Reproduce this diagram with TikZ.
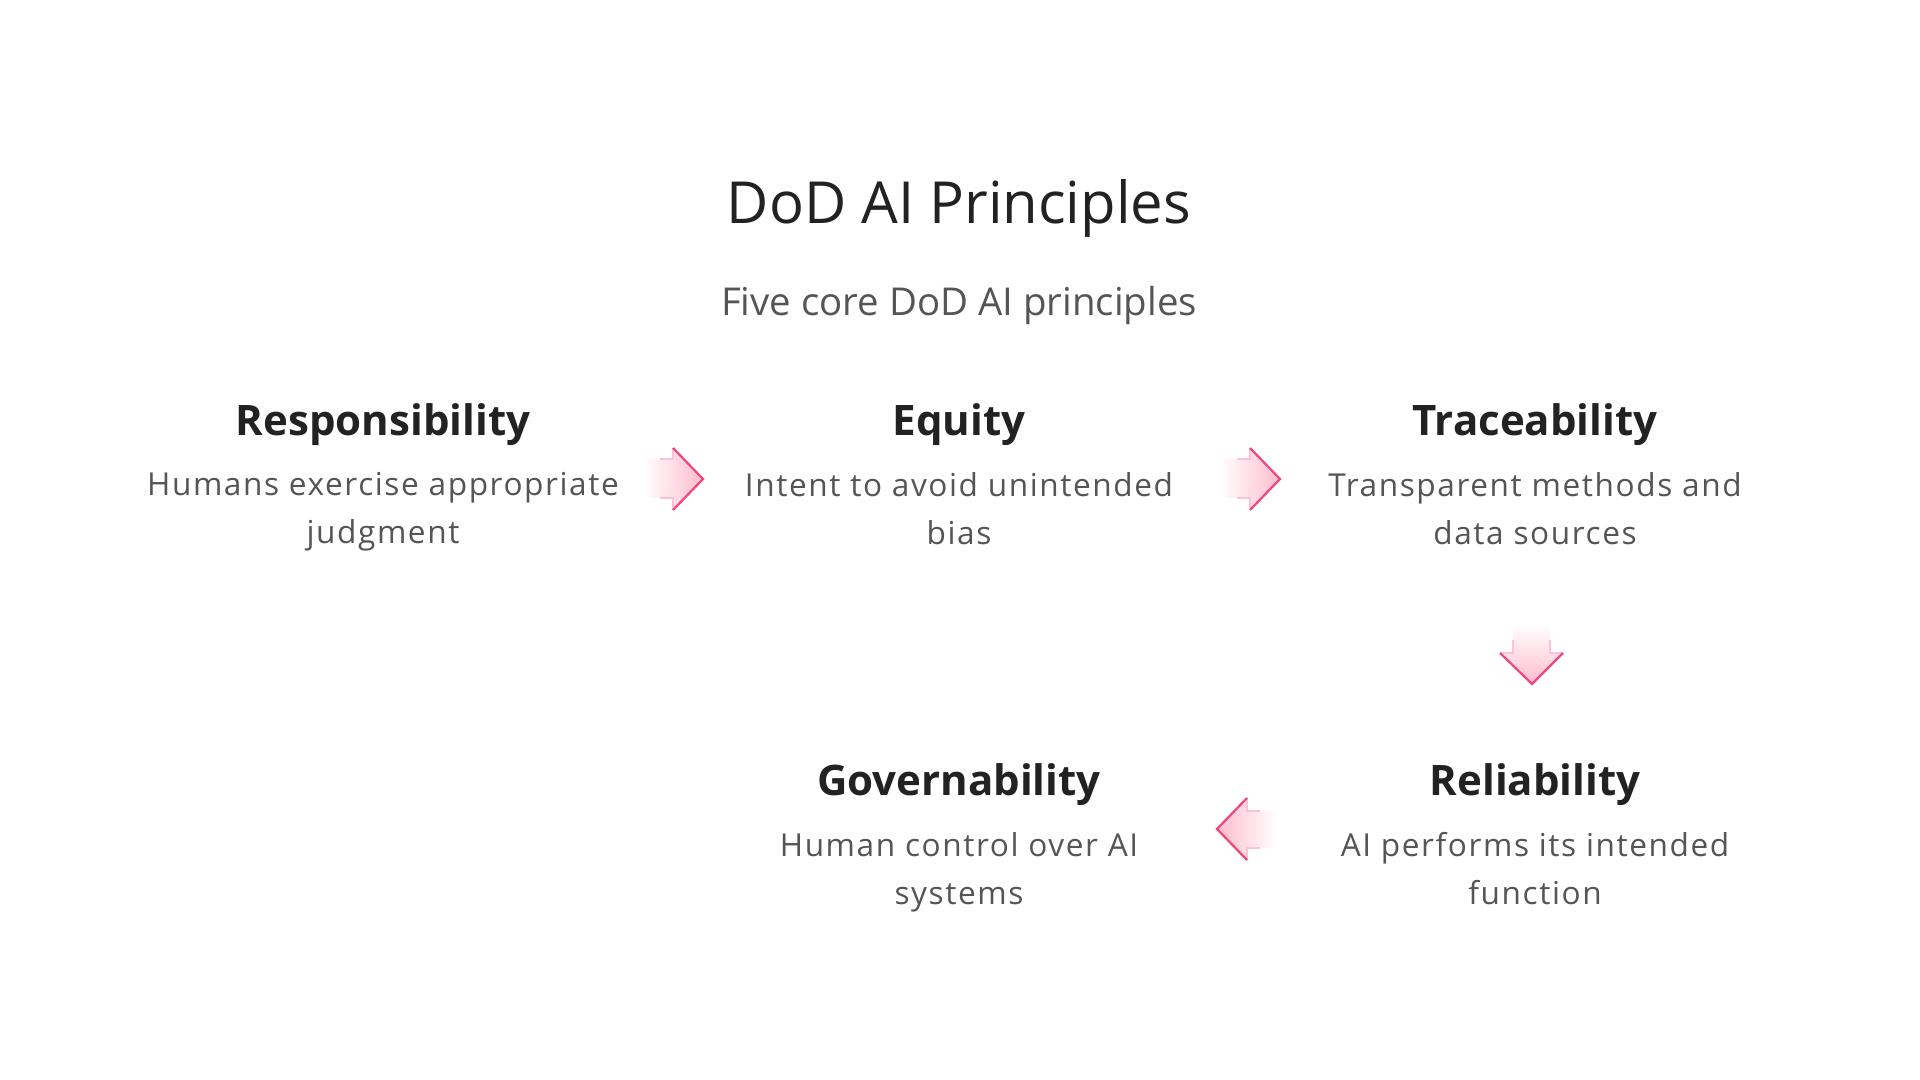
\documentclass[tikz,border=0pt]{standalone}
\usepackage{fontspec}
\setmainfont{Open Sans}
\newfontfamily\descfont[LetterSpace=5]{Open Sans}
\definecolor{titlec}{HTML}{222222}
\definecolor{descc}{HTML}{555555}
\definecolor{pinkfill}{HTML}{FFBCCD}
\definecolor{pinklight}{HTML}{FFC2D1}
\definecolor{pinkedge}{HTML}{F2457A}
\tikzset{
  titlestyle/.style={font=\fontsize{29}{35}\selectfont, text=titlec, inner sep=0, anchor=base},
  substyle/.style={font=\fontsize{19.2}{23}\selectfont, text=descc, inner sep=0, anchor=base},
  heading/.style={font=\fontsize{21}{25}\selectfont\bfseries, text=titlec, inner sep=0, anchor=base},
  desc/.style={font=\descfont\fontsize{15.8}{24}\selectfont, text=descc, align=center, inner sep=0, anchor=north},
  arrowfill/.style={draw=none},
  arrowrim/.style={draw=pinklight, line width=0.8pt, line join=miter},
  arrowtip/.style={draw=pinkedge, line width=1.1pt, line join=miter},
}
\begin{document}
\begin{tikzpicture}[x=0.5pt,y=-0.5pt]
\useasboundingbox[fill=white] (0,0) rectangle (1920,1080);

\node[titlestyle] (title) at (959,224) {DoD AI Principles};
\node[substyle] (sub) at (959,316) {Five core DoD AI principles};

% row 1
\node[heading] (h1) at (383,435) {Responsibility};
\node[desc] (d1) at (383,472) {Humans exercise appropriate\\judgment};
\node[heading] (h2) at (959,435) {Equity};
\node[desc] (d2) at (959,472) {Intent to avoid unintended\\bias};
\node[heading] (h3) at (1535,435) {Traceability};
\node[desc] (d3) at (1535,472) {Transparent methods and\\data sources};
% row 2
\node[heading] (h4) at (1535,795) {Reliability};
\node[desc] (d4) at (1535,832) {AI performs its intended\\function};
\node[heading] (h5) at (959,795) {Governability};
\node[desc] (d5) at (959,832) {Human control over AI\\systems};

% arrow 1 (right)
\coordinate (a1) at (703,479);
\shade[left color=white, right color=pinkfill, arrowfill]
  (643,459) -- (673,459) -- (673,448) -- (703,479) -- (673,510) -- (673,498) -- (643,498) -- cycle;
\draw[arrowrim] (660,459) -- (673,459) -- (673,448);
\draw[arrowrim] (660,498) -- (673,498) -- (673,510);
\draw[arrowtip] (673,448) -- (a1) -- (673,510);

% arrow 2 (right)
\coordinate (a2) at (1280,479);
\shade[left color=white, right color=pinkfill, arrowfill]
  (1220,459) -- (1250,459) -- (1250,448) -- (1280,479) -- (1250,510) -- (1250,498) -- (1220,498) -- cycle;
\draw[arrowrim] (1237,459) -- (1250,459) -- (1250,448);
\draw[arrowrim] (1237,498) -- (1250,498) -- (1250,510);
\draw[arrowtip] (1250,448) -- (a2) -- (1250,510);

% arrow 3 (down)
\coordinate (a3) at (1532,684);
\shade[top color=white, bottom color=pinkfill, arrowfill]
  (1513,624) -- (1513,653) -- (1500,653) -- (1532,684) -- (1563,653) -- (1550,653) -- (1550,624) -- cycle;
\draw[arrowrim] (1513,640) -- (1513,653) -- (1500,653);
\draw[arrowrim] (1550,640) -- (1550,653) -- (1563,653);
\draw[arrowtip] (1500,653) -- (a3) -- (1563,653);

% arrow 4 (left)
\coordinate (a4) at (1217,829);
\shade[left color=pinkfill, right color=white, arrowfill]
  (1277,811) -- (1247,811) -- (1247,798) -- (1217,829) -- (1247,860) -- (1247,848) -- (1277,848) -- cycle;
\draw[arrowrim] (1260,811) -- (1247,811) -- (1247,798);
\draw[arrowrim] (1260,848) -- (1247,848) -- (1247,860);
\draw[arrowtip] (1247,798) -- (a4) -- (1247,860);
\end{tikzpicture}
\end{document}
